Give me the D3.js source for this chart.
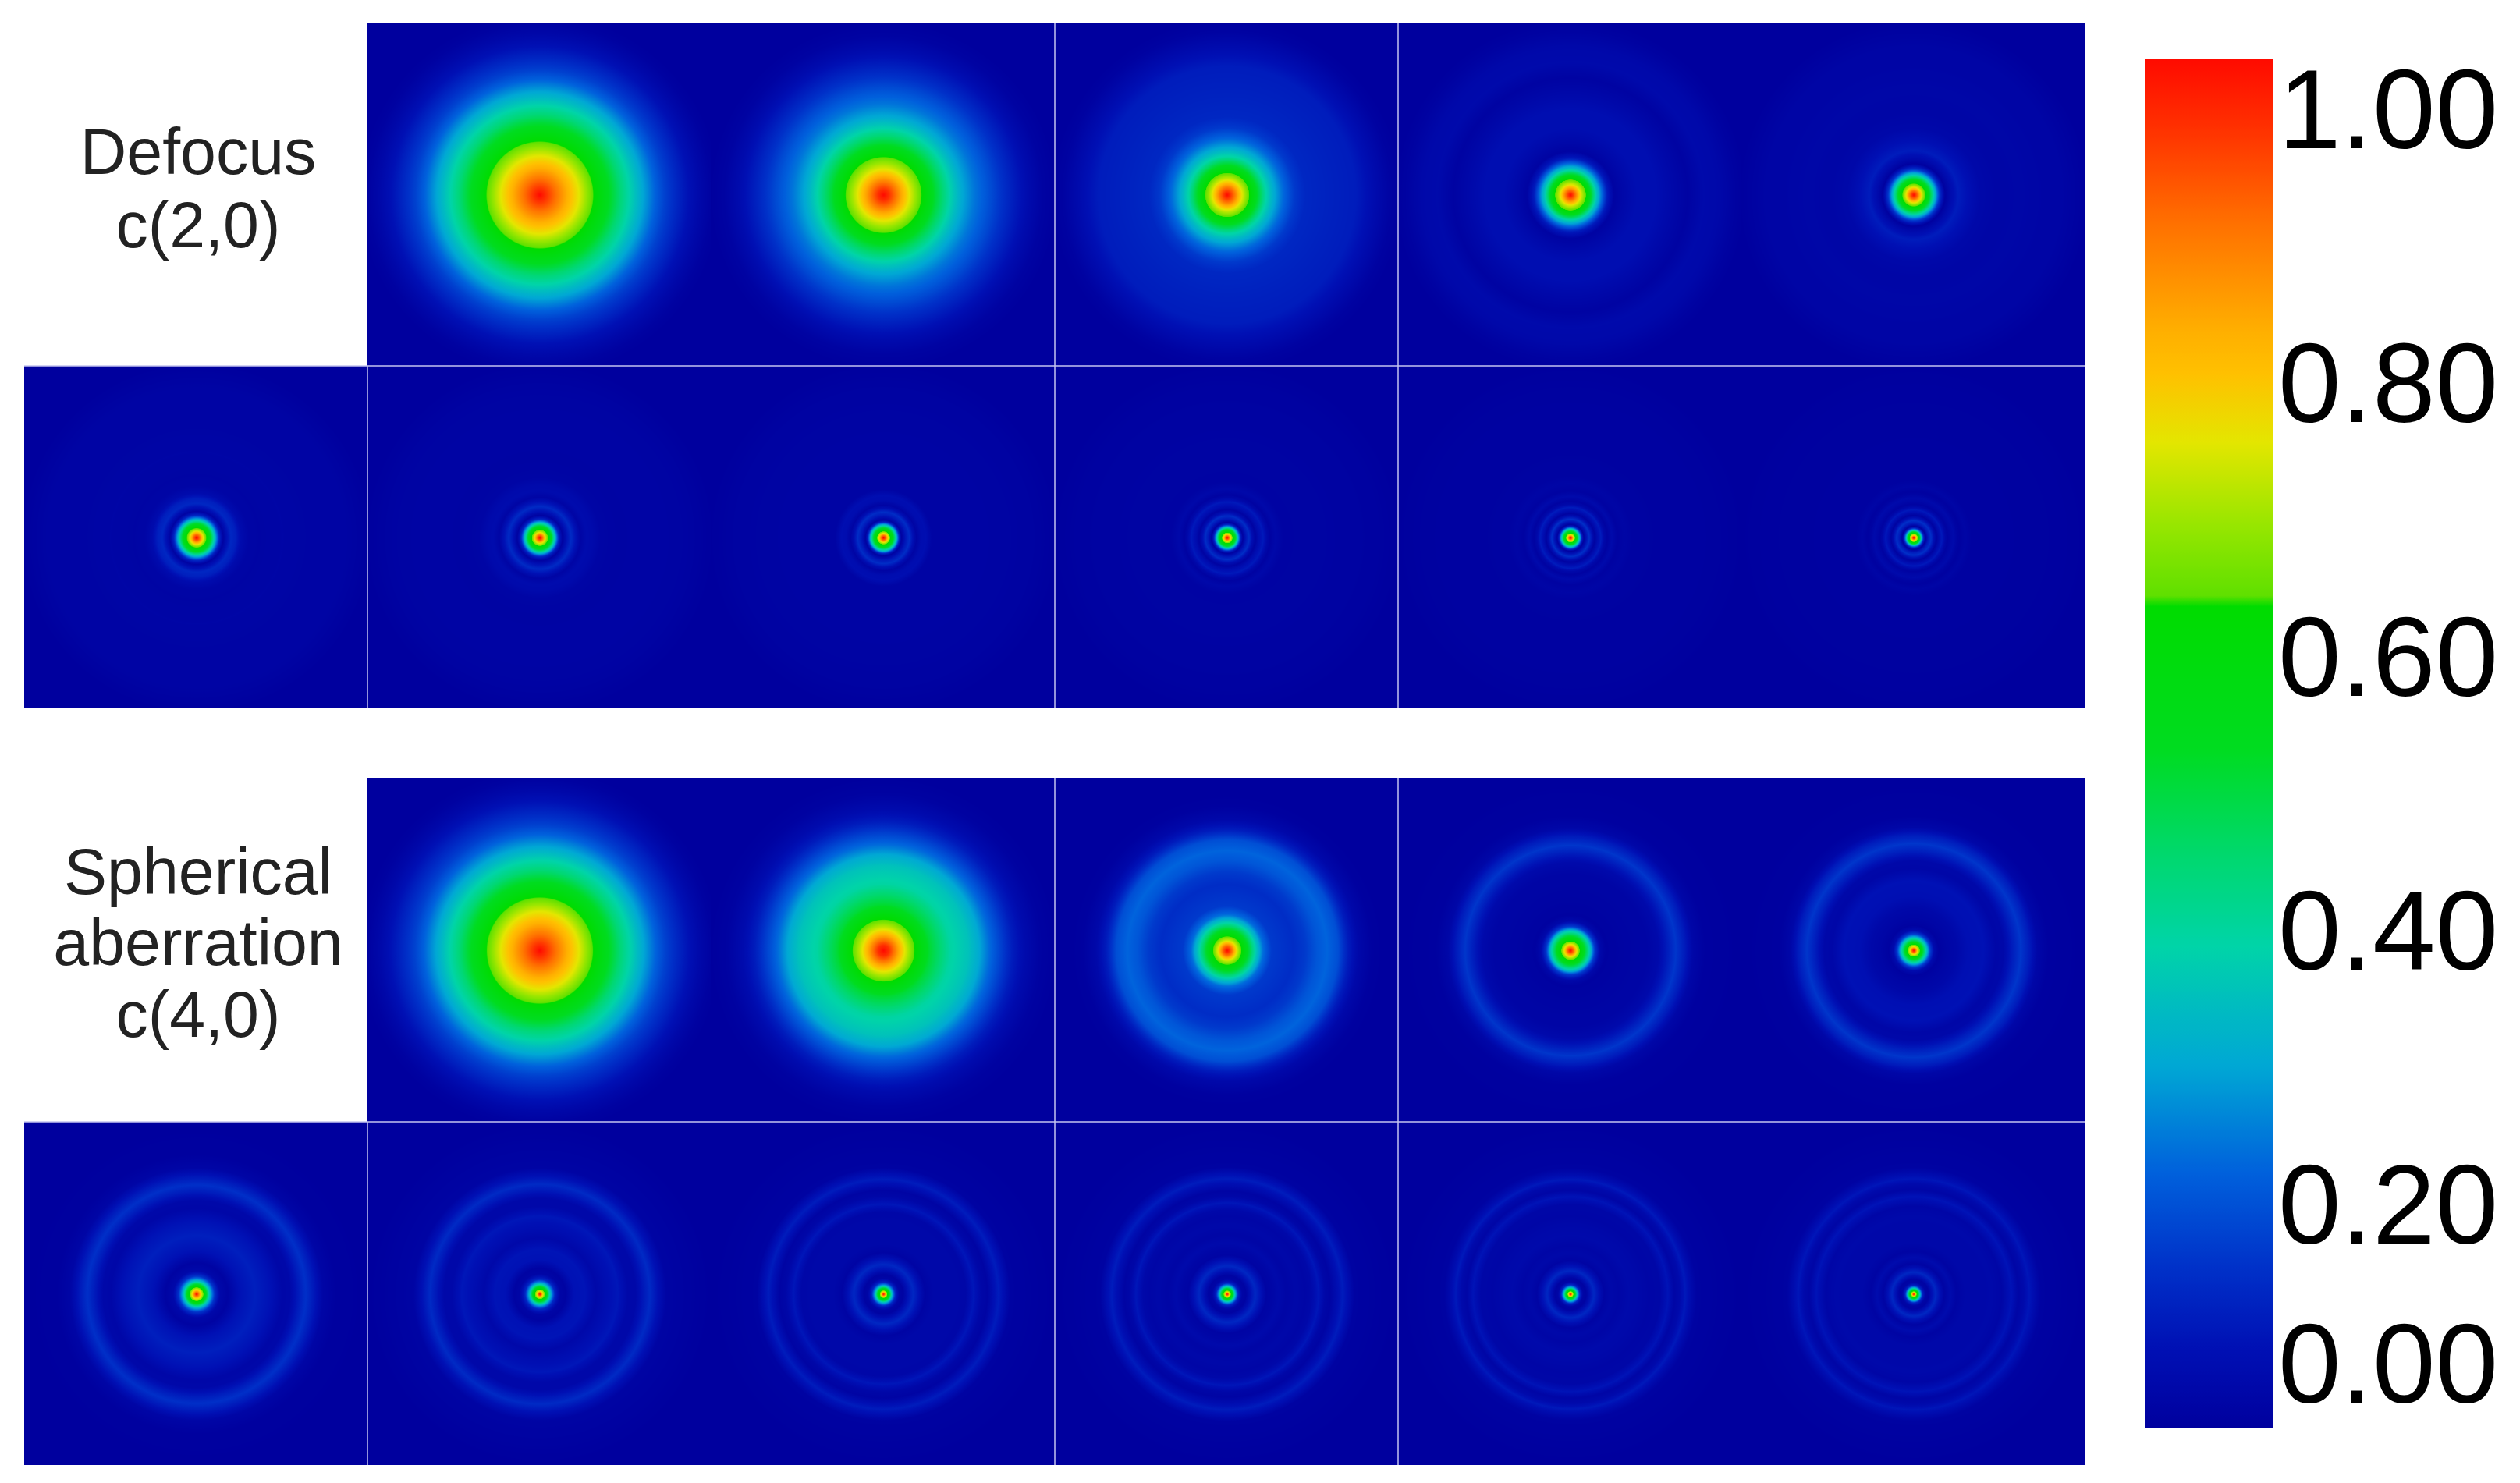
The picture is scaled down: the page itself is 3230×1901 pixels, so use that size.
<!DOCTYPE html>
<html>
<head>
  <script type="text/javascript" src="https://d3js.org/d3.v7.min.js" charset="UTF-8"></script>
  <title>Defocus and spherical aberration</title>
  <style>
    html, body { margin: 0; padding: 0; background: #fff; }
    svg { display: block; }
    text { font-family: "Liberation Sans", Arial, sans-serif; }
  </style>
</head>

<body>

<svg xmlns="http://www.w3.org/2000/svg" width="3230" height="1901" viewBox="0 0 3230 1901"></svg>

<script type="text/javascript">

  // colour bar
  var colorLevels = [0, 0.058, 0.116, 0.186, 0.265, 0.308, 0.352, 0.416, 0.496, 0.6, 0.608, 0.66, 0.72, 0.77, 0.80, 0.88, 0.95, 1];
  var colorValues = ["#00009e", "#0010b4", "#0030c8", "#0060dc", "#00a8d4", "#00bcc0", "#00d4a8", "#00d870", "#00dc20", "#00dc00", "#60e000", "#98e600", "#e4e600", "#ffc000", "#ffb000", "#ff7000", "#ff3000", "#ff0a00"];

  var tickValues = [1, 0.8, 0.6, 0.4, 0.2, 0];

  var defocusLabel = ["Defocus", "c(2,0)"];
  var sphericalLabel = ["Spherical", "aberration", "c(4,0)"];

  // one radial profile per panel, [radius, intensity], radius 220 = half a panel
  var defocusTop = [
    [[0,1],[8,.95],[20,.88],[35,.8],[50,.72],[69,.6],[93,.47],[103,.41],[117,.34],[133,.26],[147,.19],[160,.14],[175,.1],[190,.06],[205,.03],[220,.008],[232,0]],
    [[0,1],[7,.95],[15,.88],[33,.72],[49,.6],[67,.47],[85,.35],[100,.27],[116,.21],[132,.17],[150,.12],[167,.08],[185,.04],[203,.012],[222,0]],
    [[0,1],[9,.88],[19,.72],[28.5,.6],[40,.47],[49,.36],[59,.28],[71,.2],[86,.13],[100,.1],[130,.09],[165,.08],[190,.04],[210,.01],[225,0]],
    [[0,1],[6,.88],[13,.72],[20,.6],[27,.47],[33,.33],[40,.2],[47,.08],[56,.012],[68,.03],[85,.05],[110,.05],[130,.03],[150,.012],[170,.035],[190,.03],[210,.01],[225,0]],
    [[0,1],[5,.88],[10,.72],[14.7,.6],[21,.47],[27,.3],[33,.12],[40,.005],[47,.04],[57,.08],[70,.055],[85,.03],[110,.02],[135,.025],[160,.02],[190,.018],[225,0]]
  ];
  var defocusBottom = [
    [[0,1],[4,.88],[8.5,.72],[12.6,.6],[18.6,.47],[24,.28],[29,.1],[34,.012],[38,.05],[44,.1],[50,.085],[57,.04],[66,.02],[80,.016],[110,.02],[150,.015],[190,.016],[225,0]],
    [[0,1],[3.5,.88],[7,.72],[10.5,.6],[15.5,.47],[20,.28],[24,.1],[29,.01],[34,.06],[40,.105],[46,.06],[52,.018],[60,.04],[68,.035],[78,.018],[100,.014],[150,.016],[190,.012],[225,0]],
    [[0,1],[3,.88],[6,.72],[8.5,.6],[13,.47],[17,.28],[20,.1],[23,.01],[28,.07],[33,.11],[38,.05],[42,.015],[48,.045],[54,.05],[62,.015],[90,.016],[150,.014],[190,.01],[225,0]],
    [[0,1],[2.4,.88],[4.8,.72],[7,.6],[11,.47],[14,.28],[17,.1],[20,.008],[24,.07],[28,.11],[32,.05],[36,.012],[41,.05],[46,.075],[51,.03],[55,.01],[62,.03],[72,.012],[110,.014],[190,.008],[225,0]],
    [[0,1],[2,.88],[4,.72],[6,.6],[9,.47],[12,.28],[14.5,.1],[17,.008],[21,.07],[24,.115],[28,.05],[31,.01],[35,.05],[39,.08],[43,.03],[47,.01],[53,.035],[60,.01],[70,.02],[80,.01],[190,.006],[225,0]],
    [[0,1],[1.8,.88],[3.6,.72],[5.5,.6],[8,.47],[10,.28],[12.5,.1],[15,.006],[18,.07],[22,.115],[26,.05],[29,.01],[33,.05],[36,.075],[40,.03],[43,.01],[47,.025],[51,.035],[55,.015],[59,.006],[66,.02],[74,.008],[190,.005],[225,0]]
  ];
  var sphericalTop = [
    [[0,1],[8,.95],[20,.88],[35,.8],[50,.72],[68.6,.6],[93,.47],[103,.41],[118,.34],[134,.26],[148,.19],[161,.14],[176,.1],[191,.06],[205,.03],[220,.008],[232,0]],
    [[0,1],[7,.95],[13,.88],[27,.72],[40,.6],[60,.47],[85,.36],[108,.32],[122,.27],[135,.2],[150,.14],[165,.08],[180,.04],[200,.01],[222,0]],
    [[0,1],[6,.88],[12,.72],[18.3,.6],[28,.47],[37,.33],[46,.2],[57,.13],[85,.11],[100,.13],[115,.17],[128,.19],[142,.16],[155,.08],[168,.03],[185,.005],[200,0]],
    [[0,1],[4,.88],[8,.72],[12,.6],[19,.47],[25,.33],[31,.13],[38,.03],[45,.008],[70,.015],[100,.02],[113,.035],[123,.075],[135,.125],[147,.075],[157,.025],[172,.005],[220,0]],
    [[0,1],[2.5,.88],[5,.72],[8,.6],[12,.47],[16,.33],[21,.14],[26,.04],[32,.008],[42,.02],[55,.03],[70,.055],[90,.06],[105,.025],[115,.03],[126,.08],[137,.125],[148,.08],[158,.025],[172,.005],[220,0]]
  ];
  var sphericalBottom = [
    [[0,1],[2.5,.88],[6,.72],[9,.6],[13,.47],[17,.3],[23,.12],[30,.03],[40,.012],[55,.06],[75,.085],[95,.06],[110,.025],[120,.03],[130,.075],[140,.115],[151,.07],[162,.02],[178,.004],[220,0]],
    [[0,1],[2,.88],[4,.72],[6.5,.6],[10,.47],[14,.28],[19,.1],[26,.02],[33,.012],[44,.06],[58,.065],[72,.03],[85,.05],[100,.07],[113,.028],[123,.03],[132,.07],[141,.105],[151,.06],[162,.015],[220,0]],
    [[0,1],[1.6,.88],[3.2,.72],[5,.6],[8,.47],[11,.28],[15,.1],[20,.02],[25,.012],[31,.06],[38,.1],[45,.06],[53,.015],[65,.03],[90,.03],[105,.025],[115,.07],[125,.025],[133,.015],[140,.05],[147,.08],[154,.05],[162,.01],[220,0]],
    [[0,1],[1.6,.88],[3,.72],[4.6,.6],[7.5,.47],[10.5,.28],[14,.1],[19,.02],[24,.012],[30,.06],[36,.1],[43,.06],[50,.015],[58,.022],[66,.035],[76,.02],[88,.03],[100,.022],[108,.03],[117,.07],[125,.025],[132,.015],[141,.05],[148,.08],[155,.05],[163,.01],[220,0]],
    [[0,1],[1.4,.88],[2.6,.72],[4,.6],[6.5,.47],[9,.28],[12,.1],[16,.02],[20,.012],[25,.06],[30,.1],[36,.06],[43,.015],[52,.03],[62,.022],[75,.035],[88,.03],[100,.022],[115,.025],[125,.065],[133,.02],[140,.035],[147,.075],[154,.04],[162,.01],[220,0]],
    [[0,1],[1.3,.88],[2.4,.72],[3.7,.6],[6,.47],[8.5,.28],[11,.1],[15,.02],[19,.012],[24,.065],[28,.1],[33,.06],[39,.015],[47,.04],[55,.015],[67,.03],[85,.028],[100,.032],[113,.022],[125,.065],[134,.02],[141,.035],[148,.07],[155,.04],[163,.01],[220,0]]
  ];

  var svg = d3.select( "svg" );
  var defs = svg.append( "defs" );

  var color = d3.scaleLinear().domain( colorLevels ).range( colorValues ).clamp( true );

  var xPanel = d3.scaleLinear().domain( [0, 6] ).rangeRound( [31, 2672] );
  var yDefocus = d3.scaleLinear().domain( [0, 2] ).rangeRound( [29, 908] );
  var ySpherical = d3.scaleLinear().domain( [0, 2] ).rangeRound( [997, 1878] );

  var gradientCount = 0;

  function drawPanel( profile, col, row, y )
  {
    var x0 = xPanel( col ), x1 = xPanel( col + 1 );
    var y0 = y( row ), y1 = y( row + 1 );
    var radius = d3.scaleLinear().domain( [0, 220] ).range( [0, ( x1 - x0 ) / 2] );
    var intensity = d3.scaleLinear()
        .domain( profile.map( function( d ) { return d[0]; } ) )
        .range( profile.map( function( d ) { return d[1]; } ) )
        .clamp( true );

    var id = "psf" + ( gradientCount++ );
    var gradient = defs.append( "radialGradient" )
        .attr( "id", id )
        .attr( "gradientUnits", "userSpaceOnUse" )
        .attr( "cx", ( x0 + x1 ) / 2 + 1 )
        .attr( "cy", ( y0 + y1 ) / 2 + 1 )
        .attr( "r", radius( 240 ) );

    gradient.selectAll( "stop" )
        .data( d3.range( 0, 240.25, 0.5 ) )
        .enter()
        .append( "stop" )
        .attr( "offset", function( r ) { return r / 240; } )
        .attr( "stop-color", function( r ) { return color( intensity( r ) ); } );

    svg.append( "rect" )
        .attr( "x", x0 )
        .attr( "y", y0 )
        .attr( "width", x1 - x0 )
        .attr( "height", y1 - y0 )
        .attr( "shape-rendering", "crispEdges" )
        .attr( "fill", "url(#" + id + ")" );
  }

  function drawBlock( top, bottom, y )
  {
    top.forEach( function( p, i ) { drawPanel( p, i + 1, 0, y ); } );
    bottom.forEach( function( p, i ) { drawPanel( p, i, 1, y ); } );

    // thin separators, only where the original has them
    var lines = svg.append( "g" )
        .attr( "stroke", "#c4c4f0" )
        .attr( "stroke-width", 1.5 );

    lines.append( "line" )
        .attr( "x1", xPanel( 0 ) ).attr( "x2", xPanel( 6 ) )
        .attr( "y1", y( 1 ) ).attr( "y2", y( 1 ) );

    lines.append( "line" )
        .attr( "x1", xPanel( 1 ) ).attr( "x2", xPanel( 1 ) )
        .attr( "y1", y( 1 ) ).attr( "y2", y( 2 ) );

    [3, 4].forEach( function( c ) {
      lines.append( "line" )
          .attr( "x1", xPanel( c ) ).attr( "x2", xPanel( c ) )
          .attr( "y1", y( 0 ) ).attr( "y2", y( 2 ) );
    } );
  }

  drawBlock( defocusTop, defocusBottom, yDefocus );
  drawBlock( sphericalTop, sphericalBottom, ySpherical );

  // row labels
  function drawLabel( lines, baselines )
  {
    svg.append( "g" ).selectAll( "text" )
        .data( lines )
        .enter()
        .append( "text" )
        .attr( "x", 254 )
        .attr( "y", function( d, i ) { return baselines[i]; } )
        .attr( "text-anchor", "middle" )
        .attr( "font-size", 82.5 )
        .attr( "fill", "#222" )
        .text( function( d ) { return d; } );
  }

  drawLabel( defocusLabel, [223, 317] );
  drawLabel( sphericalLabel, [1146, 1237, 1329] );

  // colour bar
  var yBar = d3.scaleLinear().domain( [0, 1] ).range( [1831, 75] );

  var barGradient = defs.append( "linearGradient" )
      .attr( "id", "bar" )
      .attr( "x1", 0 ).attr( "x2", 0 )
      .attr( "y1", 1 ).attr( "y2", 0 );

  barGradient.selectAll( "stop" )
      .data( d3.range( 0, 1.0005, 0.002 ) )
      .enter()
      .append( "stop" )
      .attr( "offset", function( t ) { return t; } )
      .attr( "stop-color", function( t ) { return color( t ); } );

  svg.append( "rect" )
      .attr( "x", 2749 )
      .attr( "y", yBar( 1 ) )
      .attr( "width", 165 )
      .attr( "height", yBar( 0 ) - yBar( 1 ) )
      .attr( "fill", "url(#bar)" );

  // the labels sit evenly apart except the last one
  var yTick = d3.scaleLinear().domain( [1, 0.2, 0] ).range( [143, 1547, 1751] );

  var axis = svg.append( "g" )
      .attr( "transform", "translate(2914,0)" )
      .call( d3.axisRight( yTick ).tickValues( tickValues ).tickFormat( d3.format( ".2f" ) ).tickSize( 0 ).tickPadding( 6 ) );

  axis.select( ".domain" ).remove();
  axis.selectAll( "text" )
      .attr( "font-size", 145 )
      .attr( "fill", "#000" );

</script>

</body>
</html>
